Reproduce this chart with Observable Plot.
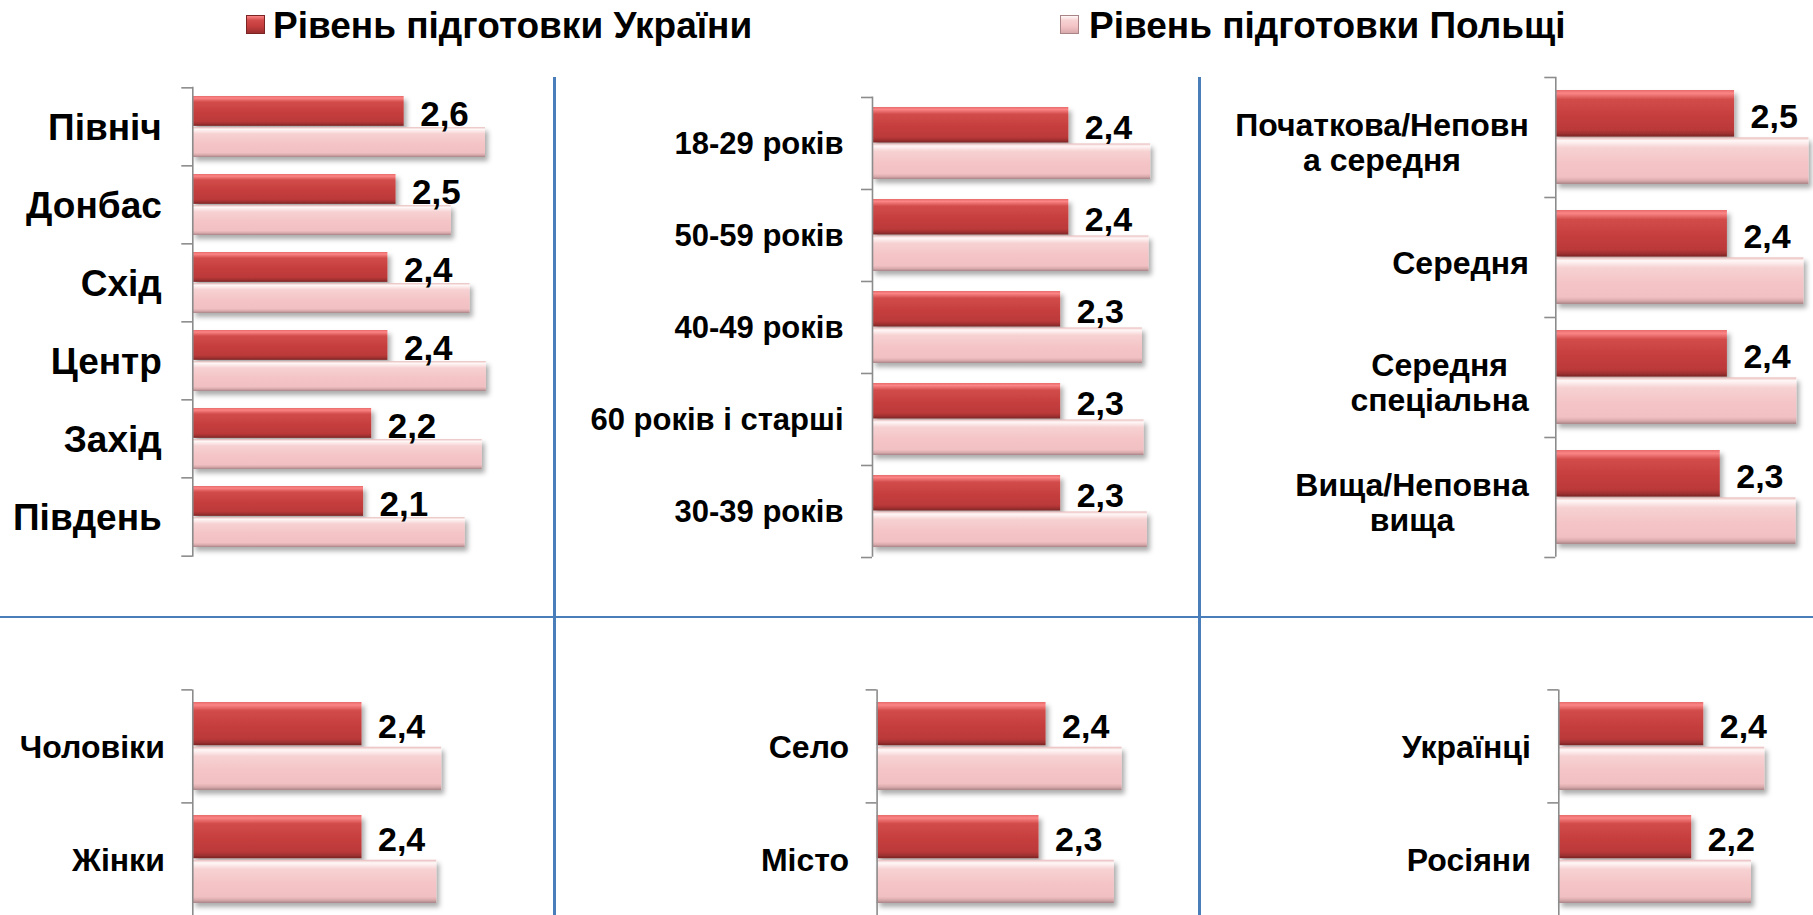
<!DOCTYPE html>
<html><head><meta charset="utf-8">
<script src="https://cdn.jsdelivr.net/npm/d3@7"></script>
<script src="https://cdn.jsdelivr.net/npm/@observablehq/plot@0.6"></script>
<style>
html,body{margin:0;padding:0;width:1813px;height:915px;overflow:hidden;background:#fff;font-family:"Liberation Sans",Arial,sans-serif;}
#root{position:relative;width:1813px;height:915px;overflow:hidden;}
.legend{position:absolute;top:7px;font-weight:bold;font-size:37px;line-height:1;color:#000;white-space:nowrap}
.sw{position:absolute;top:15px;width:19px;height:19px;box-sizing:border-box}
.sw.red{background:linear-gradient(to bottom,#fb8585 0%,#d24c4b 25%,#c63e3e 60%,#9a2e2e 100%);border:1px solid #7a2424}
.sw.pink{background:linear-gradient(to bottom,#fff8f8 0%,#f7d2d3 25%,#f4c4c6 60%,#d9aaac 100%);border:1px solid #a88486}
.line{position:absolute;background:#4a7ebb}
.panel{position:absolute}
</style></head><body>
<svg width="0" height="0" style="position:absolute">
 <defs>
  <linearGradient id="gRed" x1="0" y1="0" x2="0" y2="1">
   <stop offset="0" stop-color="#e86a6a"/><stop offset="0.07" stop-color="#fb8585"/>
   <stop offset="0.2" stop-color="#d24c4b"/><stop offset="0.55" stop-color="#c63e3e"/>
   <stop offset="0.85" stop-color="#bb3939"/><stop offset="0.93" stop-color="#a03131"/>
   <stop offset="1" stop-color="#7a2424"/>
  </linearGradient>
  <linearGradient id="gPink" x1="0" y1="0" x2="0" y2="1">
   <stop offset="0" stop-color="#e8b8b8"/><stop offset="0.07" stop-color="#fff8f8"/>
   <stop offset="0.22" stop-color="#f7d2d3"/><stop offset="0.55" stop-color="#f4c4c6"/>
   <stop offset="0.85" stop-color="#f1c0c2"/><stop offset="0.93" stop-color="#d9aaac"/>
   <stop offset="1" stop-color="#a88486"/>
  </linearGradient>
  <filter id="shadow" x="-5%" y="-20%" width="115%" height="170%">
   <feDropShadow dx="3" dy="4" stdDeviation="2.5" flood-color="#000" flood-opacity="0.33"/>
  </filter>
 </defs>
</svg>
<div id="root"></div>
<script>
// ---------- data ----------
const seriesNames = ["Рівень підготовки України", "Рівень підготовки Польщі"];

const regions   = ["Північ", "Донбас", "Схід", "Центр", "Захід", "Південь"];
const regionsUA = [2.6, 2.5, 2.4, 2.4, 2.2, 2.1];
const regionsPL = [3.60, 3.18, 3.41, 3.61, 3.56, 3.35];

const ages   = ["18-29 років", "50-59 років", "40-49 років", "60 років і старші", "30-39 років"];
const agesUA = [2.4, 2.4, 2.3, 2.3, 2.3];
const agesPL = [3.40, 3.38, 3.30, 3.32, 3.36];

const education   = ["Початкова/Неповн\nа середня", "Середня", "Середня\nспеціальна", "Вища/Неповна\nвища"];
const educationUA = [2.5, 2.4, 2.4, 2.3];
const educationPL = [3.54, 3.47, 3.37, 3.36];

const genders   = ["Чоловіки", "Жінки"];
const gendersUA = [2.4, 2.4];
const gendersPL = [3.53, 3.46];

const settlements   = ["Село", "Місто"];
const settlementsUA = [2.4, 2.3];
const settlementsPL = [3.48, 3.37];

const nationalities   = ["Українці", "Росіяни"];
const nationalitiesUA = [2.4, 2.2];
const nationalitiesPL = [3.41, 3.19];

// ---------- layout ----------
const FONT = "Liberation Sans, Arial, sans-serif";
const root = document.getElementById("root");

function addDiv(cls, style, text) {
  const d = document.createElement("div");
  d.className = cls;
  Object.assign(d.style, style);
  if (text) d.textContent = text;
  root.appendChild(d);
  return d;
}

// legend
addDiv("sw red", {left: "246px"});
addDiv("legend", {left: "273px"}, seriesNames[0]);
addDiv("sw pink", {left: "1060px"});
addDiv("legend", {left: "1089px"}, seriesNames[1]);

// separator lines
addDiv("line", {left: "553px", top: "77px", width: "2.5px", height: "840px"});
addDiv("line", {left: "1198px", top: "77px", width: "2.5px", height: "840px"});
addDiv("line", {left: "0px", top: "615.5px", width: "1813px", height: "2.5px"});

const fmt = v => d3.format(".1f")(v).replace(".", ",");

const panels = [
  {cats: regions, ua: regionsUA, pl: regionsPL, left: 0, top: 0, width: 553, height: 600,
   axisX: 192.3, y0: 86.7, y1: 556.7, ppu: 81.3, xmax: 4, labelSize: 37, gap: 31, valueSize: 35, labelDy: 0},
  {cats: ages, ua: agesUA, pl: agesPL, left: 556, top: 0, width: 642, height: 600,
   axisX: 872, y0: 96.5, y1: 556.7, ppu: 81.8, xmax: 3.8, labelSize: 31, gap: 29, valueSize: 34, labelDy: 0},
  {cats: education, ua: educationUA, pl: educationPL, left: 1201, top: 0, width: 612, height: 600,
   axisX: 1555.3, y0: 76.7, y1: 556.7, ppu: 71.5, xmax: 3.6, labelSize: 32, gap: 27, valueSize: 34, labelDy: 5},
  {cats: genders, ua: gendersUA, pl: gendersPL, left: 0, top: 620, width: 553, height: 300,
   axisX: 192.3, y0: 689.5, y1: 916, ppu: 70.5, xmax: 4, labelSize: 32, gap: 28, valueSize: 34, labelDy: 0},
  {cats: settlements, ua: settlementsUA, pl: settlementsPL, left: 556, top: 620, width: 642, height: 300,
   axisX: 876.6, y0: 689.5, y1: 916, ppu: 70.4, xmax: 4, labelSize: 32, gap: 28, valueSize: 34, labelDy: 0},
  {cats: nationalities, ua: nationalitiesUA, pl: nationalitiesPL, left: 1201, top: 620, width: 612, height: 300,
   axisX: 1558.3, y0: 689.5, y1: 916, ppu: 60.4, xmax: 3.6, labelSize: 32, gap: 28, valueSize: 34, labelDy: 0}
];

function drawPanel(cfg) {
  const {cats, ua, pl} = cfg;
  const data = cats.map((c, i) => ({cat: c, ua: ua[i], pl: pl[i]}));
  const ml = cfg.axisX - cfg.left;
  const mt = cfg.y0 - cfg.top;
  const mb = cfg.top + cfg.height - cfg.y1;
  const mr = cfg.width - ml - cfg.xmax * cfg.ppu;
  const step = (cfg.y1 - cfg.y0) / cats.length;
  const pIn = 0.22;
  const half = step * (1 - pIn) / 2;
  const axisColor = "#8c8c8c";
  const svg = Plot.plot({
    width: cfg.width, height: cfg.height,
    marginLeft: ml, marginRight: mr, marginTop: mt, marginBottom: mb,
    style: {background: "transparent", overflow: "visible", fontFamily: FONT, fontWeight: "bold", color: "#000"},
    x: {domain: [0, cfg.xmax], axis: null},
    y: {domain: cats, axis: null, paddingInner: pIn, paddingOuter: pIn / 2},
    marks: [
      Plot.text(cats, {y: d => d, text: d => d, frameAnchor: "left", textAnchor: "end",
        dx: -cfg.gap, dy: cfg.labelDy, fontSize: cfg.labelSize, fontWeight: "bold",
        fontFamily: FONT, fill: "#000", lineHeight: 1.1}),
      Plot.barX(data, {x: "ua", y: "cat", fill: "url(#gRed)", insetBottom: half + 0.6}),
      Plot.barX(data, {x: "pl", y: "cat", fill: "url(#gPink)", insetTop: half + 0.6}),
      Plot.ruleX([0], {stroke: axisColor, strokeWidth: 1.6}),
      Plot.ruleY(cats, {y: d => d, x1: 0, x2: 0, insetLeft: -11, dy: -step / 2, stroke: axisColor, strokeWidth: 1.6}),
      Plot.ruleY(cats.slice(-1), {y: d => d, x1: 0, x2: 0, insetLeft: -11, dy: step / 2, stroke: axisColor, strokeWidth: 1.6}),
      Plot.text(data, {x: "ua", y: "cat", text: d => fmt(d.ua), textAnchor: "start",
        dx: 16, dy: -half / 2 + 3, fontSize: cfg.valueSize, fontWeight: "bold",
        fontFamily: FONT, fill: "#000"})
    ]
  });
  const wrap = document.createElement("div");
  wrap.className = "panel";
  wrap.style.left = cfg.left + "px";
  wrap.style.top = cfg.top + "px";
  wrap.appendChild(svg);
  root.appendChild(wrap);

  // shadows on bars
  svg.querySelectorAll('g[aria-label="bar"]').forEach(g => g.setAttribute("filter", "url(#shadow)"));
  // center multi-line category labels on their widest line (right edge stays at the anchor)
  const labelGroup = svg.querySelector('g[aria-label="text"]');
  if (labelGroup) {
    labelGroup.querySelectorAll("text").forEach(t => {
      const spans = t.querySelectorAll("tspan");
      if (spans.length < 2) return;
      let w = 0;
      spans.forEach(s => { w = Math.max(w, s.getComputedTextLength()); });
      t.setAttribute("text-anchor", "middle");
      t.setAttribute("transform", (t.getAttribute("transform") || "") + ` translate(${-w / 2},0)`);
    });
  }
}

panels.forEach(drawPanel);
</script>
</body></html>
